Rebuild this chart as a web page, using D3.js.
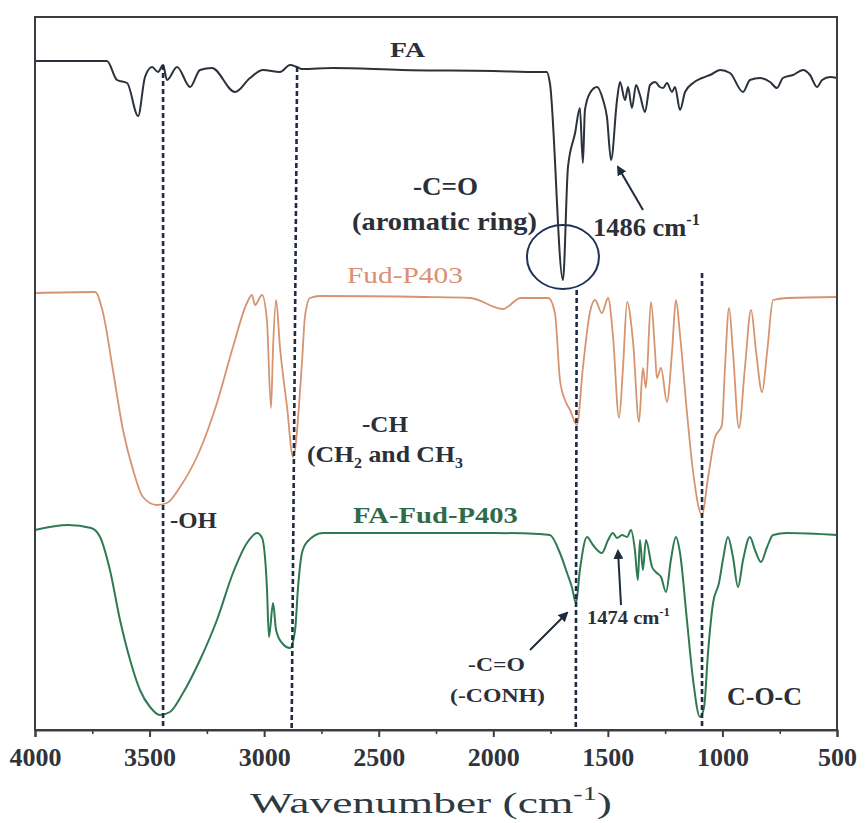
<!DOCTYPE html>
<html>
<head>
<meta charset="utf-8">
<script src="https://cdn.jsdelivr.net/npm/d3@7"></script>
<style>
  html, body { margin: 0; padding: 0; background: #fff; }
  svg { display: block; }
</style>
</head>
<body>
<svg id="chart" width="865" height="823"></svg>
<script>
// ---------------------------------------------------------------------------
// Data (wavenumber in cm-1, transmittance in arbitrary offset units)
// ---------------------------------------------------------------------------

const faWave = [4000, 3686, 3642, 3598, 3550, 3520, 3489, 3463, 3441, 3424, 3380, 3323, 3280, 3228,
  3127, 3062, 3005, 2931, 2887, 2857, 2835, 2700, 2400, 2000, 1800, 1766, 1753, 1696, 1674, 1643,
  1622, 1609, 1600, 1578, 1547, 1521, 1504, 1486, 1460, 1447, 1425, 1412, 1395, 1377, 1360, 1338,
  1316, 1294, 1273, 1259, 1242, 1220, 1207, 1185, 1163, 1128, 1089, 1054, 1010, 967, 910, 880,
  836, 792, 762, 736, 692, 648, 618, 587, 565, 530, 500];
const faSignal = [669, 669, 650, 647, 614, 653, 663, 658, 665, 650, 663, 643, 660, 662,
  638, 652, 660, 658, 665, 663, 661, 662, 660, 659, 658, 658, 647, 450, 563, 597,
  622, 567, 620, 637, 643, 630, 613, 570, 630, 648, 630, 643, 622, 645, 635, 618,
  645, 648, 643, 642, 647, 638, 643, 620, 638, 647, 652, 655, 660, 657, 638, 650,
  652, 648, 642, 652, 655, 660, 655, 643, 650, 653, 652];

const fudWave = [4000, 3738, 3703, 3660, 3616, 3572, 3529, 3468, 3424, 3367, 3280, 3206, 3136, 3075,
  3053, 3040, 3009, 2988, 2970, 2961, 2948, 2931, 2900, 2874, 2835, 2822, 2800, 2756, 2300, 2100,
  1958, 1880, 1760, 1731, 1709, 1687, 1665, 1635, 1609, 1578, 1556, 1526, 1499, 1478, 1451, 1434,
  1416, 1390, 1364, 1347, 1334, 1312, 1294, 1286, 1268, 1242, 1220, 1203, 1185, 1155, 1128, 1089,
  1063, 1033, 1002, 989, 971, 954, 928, 902, 875, 853, 827, 805, 779, 718, 500];
const fudSignal = [437, 438, 417, 360, 300, 260, 233, 225, 227, 243, 280, 327, 383, 427,
  435, 425, 435, 410, 322, 383, 430, 383, 323, 273, 367, 413, 432, 434, 433, 432,
  421, 432, 432, 417, 350, 330, 320, 305, 362, 418, 430, 417, 432, 395, 312, 362,
  428, 388, 308, 362, 342, 428, 378, 352, 362, 328, 378, 430, 395, 318, 258, 215,
  252, 292, 305, 362, 422, 378, 302, 362, 420, 378, 338, 378, 430, 432, 433];

const faFudWave = [4000, 3855, 3755, 3716, 3673, 3629, 3585, 3542, 3498, 3455, 3411, 3354, 3280, 3206,
  3136, 3075, 3031, 3009, 2988, 2979, 2961, 2948, 2922, 2887, 2865, 2852, 2835, 2813, 2743, 2000,
  1800, 1753, 1709, 1678, 1657, 1639, 1622, 1591, 1565, 1526, 1499, 1478, 1460, 1438, 1416, 1399,
  1382, 1369, 1360, 1347, 1334, 1307, 1286, 1268, 1246, 1225, 1203, 1185, 1155, 1128, 1098, 1080,
  1063, 1041, 1015, 998, 976, 954, 932, 910, 880, 858, 832, 805, 779, 718, 500];
const faFudSignal = [200, 205, 202, 193, 160, 110, 70, 40, 23, 15, 18, 37, 70, 110,
  157, 187, 197, 192, 143, 93, 127, 100, 87, 82, 100, 143, 177, 188, 197, 197,
  196, 195, 177, 157, 143, 127, 160, 193, 185, 177, 190, 197, 192, 195, 193, 200,
  180, 150, 190, 160, 190, 163, 157, 153, 138, 170, 193, 177, 110, 50, 13, 23,
  77, 127, 147, 170, 193, 173, 143, 170, 193, 180, 168, 183, 195, 197, 195];

// marked bands: [wavenumber at top, wavenumber at bottom, top signal]
const bandLines = [[3441, 3441, 665], [2856, 2880, 663], [1636, 1640, 440], [1089, 1089, 457]];

const majorTicks = [4000, 3500, 3000, 2500, 2000, 1500, 1000, 500];
const minorTicks = [3750, 3250, 2750, 2250, 1750, 1250, 750];

// ---------------------------------------------------------------------------
// Layout
// ---------------------------------------------------------------------------

const LEFT = 35, RIGHT = 837, TOP = 17, BOTTOM = 730;
const SERIF = "'Liberation Serif', 'Times New Roman', Times, serif";
const INK = "#2b2f38";

const svg = d3.select("#chart");

const x = d3.scaleLinear().domain([4000, 500]).range([LEFT, RIGHT]);
const y = d3.scaleLinear().domain([0, BOTTOM - TOP]).range([BOTTOM, TOP]);

const defs = svg.append("defs");
defs.append("marker")
  .attr("id", "arrow")
  .attr("viewBox", "0 -5 10 10")
  .attr("refX", 8)
  .attr("refY", 0)
  .attr("markerWidth", 5)
  .attr("markerHeight", 5)
  .attr("orient", "auto")
  .append("path")
  .attr("d", "M0,-5L10,0L0,5Z")
  .attr("fill", "#1f2a3c");

// ---------------------------------------------------------------------------
// Spectra
// ---------------------------------------------------------------------------

const line = d3.line()
  .x((d) => x(d[0]))
  .y((d) => y(d[1]))
  .curve(d3.curveMonotoneX);

const series = [
  { wave: fudWave, signal: fudSignal, color: "#d69470", width: 1.8 },
  { wave: faFudWave, signal: faFudSignal, color: "#2f7a52", width: 2 },
  { wave: faWave, signal: faSignal, color: "#2b323b", width: 2 },
];

series.forEach((s) => {
  svg.append("path")
    .attr("d", line(s.wave.map((w, i) => [w, s.signal[i]])))
    .attr("fill", "none")
    .attr("stroke", s.color)
    .attr("stroke-width", s.width)
    .attr("stroke-linejoin", "round");
});

// dashed band markers
svg.append("g")
  .selectAll("line")
  .data(bandLines)
  .join("line")
  .attr("x1", (d) => x(d[0]))
  .attr("x2", (d) => x(d[1]))
  .attr("y1", (d) => y(d[2]))
  .attr("y2", y(0))
  .attr("stroke", "#1f2b45")
  .attr("stroke-width", 2.6)
  .attr("stroke-dasharray", "5,3");

// ---------------------------------------------------------------------------
// Frame and axis
// ---------------------------------------------------------------------------

svg.append("rect")
  .attr("x", LEFT)
  .attr("y", TOP)
  .attr("width", RIGHT - LEFT)
  .attr("height", BOTTOM - TOP)
  .attr("fill", "none")
  .attr("stroke", "#3a3d42")
  .attr("stroke-width", 2);

const axis = svg.append("g")
  .attr("transform", `translate(0,${BOTTOM})`)
  .call(d3.axisBottom(x).tickValues(majorTicks).tickSize(7).tickPadding(11).tickFormat(d3.format("d")));
axis.attr("font-family", null).attr("font-size", null);
axis.select(".domain").attr("stroke", "#3a3d42").attr("stroke-width", 2);
axis.selectAll(".tick line").attr("stroke", "#3a3d42").attr("stroke-width", 2);
axis.selectAll("text")
  .attr("fill", "#30343a")
  .attr("font-family", SERIF)
  .attr("font-weight", "bold")
  .attr("font-size", 26);

const minor = svg.append("g")
  .attr("transform", `translate(0,${BOTTOM})`)
  .call(d3.axisBottom(x).tickValues(minorTicks).tickSize(4).tickFormat(""));
minor.select(".domain").remove();
minor.selectAll(".tick line").attr("stroke", "#3a3d42").attr("stroke-width", 1.6);

// ---------------------------------------------------------------------------
// Labels (scaled horizontally to match the source figure's stretched text)
// ---------------------------------------------------------------------------

/**
 * @param {number} x0 left edge
 * @param {number} base baseline
 * @param {number} width target width
 * @param {Array<[string, string?]>} parts text runs, optional "sup"/"sub"
 */
function label(x0, base, width, parts, size, color, weight) {
  const g = svg.append("g");
  const t = g.append("text")
    .attr("x", 0)
    .attr("y", 0)
    .attr("fill", color)
    .attr("font-family", SERIF)
    .attr("font-weight", weight)
    .attr("font-size", size);
  let shift = 0;
  parts.forEach(([txt, kind]) => {
    const target = kind === "sup" ? -0.42 * size : kind === "sub" ? 0.25 * size : 0;
    t.append("tspan")
      .attr("dy", target - shift)
      .attr("font-size", kind ? size * 0.62 : null)
      .text(txt);
    shift = target;
  });
  const w = t.node().getComputedTextLength();
  const sx = width ? width / w : 1;
  g.attr("transform", `translate(${x0},${base}) scale(${sx},1)`);
  return g;
}

label(390, 57, 35, [["FA"]], 21, INK, "bold");
label(413, 195, 65, [["-C=O"]], 25, INK, "bold");
label(352, 230, 185, [["(aromatic ring)"]], 25, INK, "bold");
label(347, 283, 116, [["Fud-P403"]], 24, "#dc8f74", "normal");
label(593, 236, 107, [["1486 cm"], ["-1", "sup"]], 26, INK, "bold");
label(362, 432, 46, [["-CH"]], 23, INK, "bold");
label(307, 462, 156, [["(CH"], ["2", "sub"], [" and CH"], ["3", "sub"]], 23, INK, "bold");
label(170, 528, 47, [["-OH"]], 23, INK, "bold");
label(353, 523, 165, [["FA-Fud-P403"]], 23, "#2e6b48", "bold");
label(587, 624, 83, [["1474 cm"], ["-1", "sup"]], 19, INK, "bold");
label(468, 671, 57, [["-C=O"]], 18, INK, "bold");
label(450, 702, 95, [["(-CONH)"]], 18, INK, "bold");
label(727, 705, 75, [["C-O-C"]], 25, INK, "bold");
label(250, 813, 362, [["Wavenumber (cm"], ["-1", "sup"], [")"]], 30, "#2d3a42", "normal");

// circled carbonyl band
svg.append("ellipse")
  .attr("cx", x(1696))
  .attr("cy", 257)
  .attr("rx", 36)
  .attr("ry", 32)
  .attr("fill", "none")
  .attr("stroke", "#1e3354")
  .attr("stroke-width", 2);

// arrows
const arrows = [[643, 210, 618, 167], [621, 605, 618, 551], [530, 650, 567, 613]];
svg.append("g")
  .selectAll("line")
  .data(arrows)
  .join("line")
  .attr("x1", (d) => d[0])
  .attr("y1", (d) => d[1])
  .attr("x2", (d) => d[2])
  .attr("y2", (d) => d[3])
  .attr("stroke", "#1f2a3c")
  .attr("stroke-width", 2)
  .attr("marker-end", "url(#arrow)");
</script>
</body>
</html>
